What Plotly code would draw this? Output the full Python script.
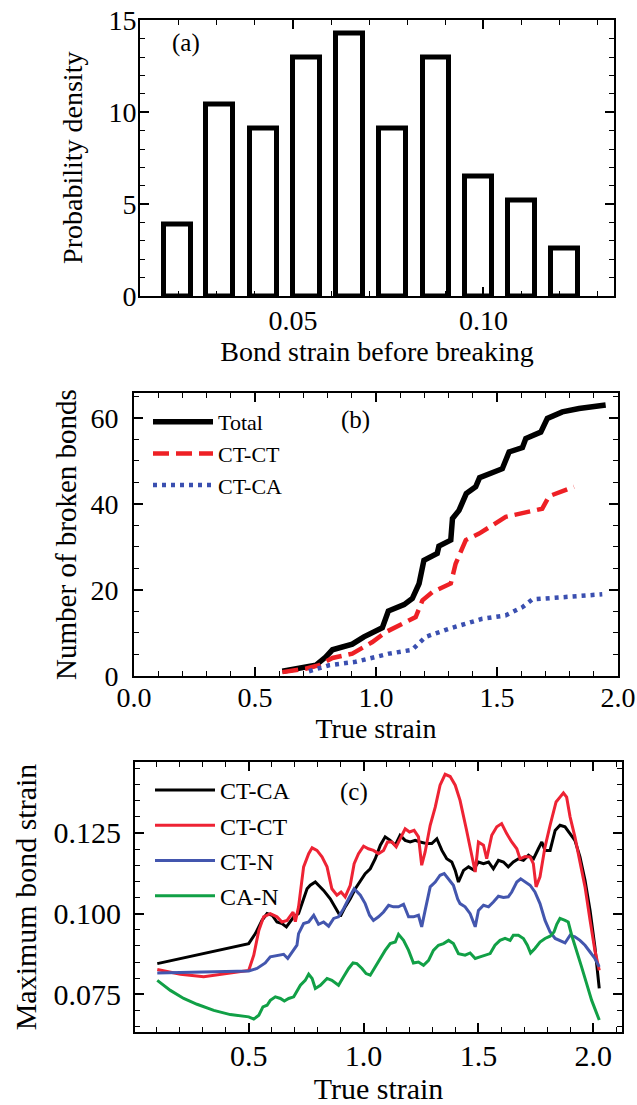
import plotly.graph_objects as go

W, H = 637, 1105
FONT = "Liberation Serif, Times New Roman, serif"

# ---------------- Panel (a): histogram of bond strain before breaking
bin_centers = [0.0197, 0.0307, 0.0422, 0.0535, 0.0648, 0.0761, 0.0875, 0.0987, 0.1100, 0.1213]
density = [3.9, 10.4, 9.1, 13.0, 14.3, 9.1, 13.0, 6.5, 5.2, 2.6]

# ---------------- Panel (b): cumulative number of broken bonds
total_x = [0.613, 0.709, 0.751, 0.792, 0.820, 0.902, 0.950, 1.026, 1.051, 1.116, 1.150, 1.178,
           1.198, 1.253, 1.260, 1.309, 1.316, 1.343, 1.373, 1.412, 1.428, 1.522, 1.550, 1.605,
           1.619, 1.681, 1.708, 1.770, 1.839, 1.949]
total_y = [1.1, 2.0, 2.5, 4.4, 6.1, 7.4, 9.1, 11.2, 15.1, 16.6, 18.0, 21.5,
           26.9, 28.5, 30.2, 31.6, 36.6, 38.5, 42.4, 44.0, 46.1, 48.2, 52.1, 53.1,
           55.2, 56.7, 59.9, 61.4, 62.2, 63.0]
ctct_x = [0.613, 0.709, 0.765, 0.820, 0.902, 0.985, 1.040, 1.164, 1.192, 1.233, 1.309, 1.329,
          1.371, 1.426, 1.536, 1.687, 1.715, 1.818]
ctct_y = [0.9, 1.7, 2.5, 4.2, 5.2, 7.9, 10.2, 13.7, 17.6, 19.5, 21.5, 26.1,
          31.6, 33.1, 37.0, 38.9, 41.8, 44.0]
ctca_x = [0.723, 0.806, 0.916, 0.998, 1.054, 1.150, 1.205, 1.302, 1.439, 1.536, 1.605, 1.646,
          1.770, 1.935]
ctca_y = [1.1, 2.5, 3.3, 4.4, 5.2, 6.1, 9.1, 11.0, 13.3, 14.1, 16.0, 17.8,
          18.4, 19.0]

# ---------------- Panel (c): maximum bond strain vs true strain
c_ctca_x = [0.102, 0.500, 0.529, 0.558, 0.580, 0.602, 0.623, 0.645, 0.664, 0.681, 0.696, 0.717,
            0.732, 0.754, 0.768, 0.790, 0.804, 0.826, 0.855, 0.884, 0.899, 0.920, 0.942, 0.964,
            0.986, 1.007, 1.029, 1.051, 1.073, 1.094, 1.116, 1.138, 1.159, 1.181, 1.203, 1.225,
            1.246, 1.275, 1.297, 1.319, 1.341, 1.362, 1.384, 1.399, 1.413, 1.435, 1.457, 1.478,
            1.500, 1.522, 1.544, 1.565, 1.587, 1.609, 1.630, 1.652, 1.674, 1.696, 1.718, 1.740,
            1.761, 1.776, 1.790, 1.812, 1.834, 1.855, 1.877, 1.899, 1.920, 1.942, 1.964, 1.986,
            2.007, 2.026]
c_ctca_y = [0.0845, 0.0907, 0.0938, 0.0979, 0.1000, 0.0995, 0.0974, 0.0969, 0.0959, 0.0974, 0.0990, 0.1000,
            0.1031, 0.1077, 0.1088, 0.1098, 0.1088, 0.1072, 0.1046, 0.1010, 0.0992, 0.1021, 0.1046, 0.1077,
            0.1103, 0.1124, 0.1139, 0.1170, 0.1212, 0.1238, 0.1227, 0.1212, 0.1243, 0.1227, 0.1222, 0.1227,
            0.1222, 0.1217, 0.1217, 0.1232, 0.1196, 0.1170, 0.1160, 0.1134, 0.1098, 0.1134, 0.1145, 0.1136,
            0.1160, 0.1155, 0.1160, 0.1139, 0.1165, 0.1160, 0.1145, 0.1160, 0.1170, 0.1165, 0.1181, 0.1170,
            0.1201, 0.1222, 0.1196, 0.1196, 0.1258, 0.1274, 0.1269, 0.1248, 0.1227, 0.1176, 0.1103, 0.1010,
            0.0897, 0.0768]
c_ctct_x = [0.102, 0.203, 0.304, 0.406, 0.500, 0.522, 0.544, 0.565, 0.594, 0.623, 0.645, 0.667,
            0.693, 0.703, 0.717, 0.739, 0.761, 0.776, 0.797, 0.819, 0.841, 0.862, 0.884, 0.902,
            0.920, 0.942, 0.959, 0.978, 1.000, 1.021, 1.043, 1.065, 1.087, 1.104, 1.123, 1.142,
            1.159, 1.181, 1.200, 1.220, 1.239, 1.253, 1.268, 1.290, 1.312, 1.333, 1.355, 1.377,
            1.399, 1.420, 1.447, 1.464, 1.486, 1.500, 1.522, 1.536, 1.558, 1.580, 1.601, 1.623,
            1.645, 1.667, 1.681, 1.703, 1.725, 1.739, 1.751, 1.768, 1.790, 1.812, 1.838, 1.855,
            1.870, 1.884, 1.899, 1.920, 1.942, 1.964, 1.986, 2.007, 2.026]
c_ctct_y = [0.0827, 0.0812, 0.0804, 0.0814, 0.0824, 0.0871, 0.0948, 0.0990, 0.1000, 0.0990, 0.0974, 0.0979,
            0.1005, 0.0975, 0.1021, 0.1145, 0.1186, 0.1204, 0.1196, 0.1176, 0.1145, 0.1077, 0.1057, 0.1067,
            0.1052, 0.1088, 0.1155, 0.1186, 0.1209, 0.1201, 0.1196, 0.1186, 0.1196, 0.1222, 0.1222, 0.1207,
            0.1232, 0.1263, 0.1253, 0.1258, 0.1238, 0.1150, 0.1191, 0.1274, 0.1330, 0.1398, 0.1432, 0.1425,
            0.1398, 0.1351, 0.1263, 0.1207, 0.1129, 0.1222, 0.1212, 0.1170, 0.1243, 0.1269, 0.1279, 0.1248,
            0.1222, 0.1201, 0.1170, 0.1177, 0.1176, 0.1155, 0.1083, 0.1114, 0.1207, 0.1274, 0.1346, 0.1361,
            0.1374, 0.1361, 0.1300, 0.1238, 0.1165, 0.1083, 0.0979, 0.0886, 0.0824]
c_ctn_x = [0.102, 0.275, 0.500, 0.536, 0.572, 0.594, 0.623, 0.652, 0.670, 0.688, 0.710, 0.717,
           0.739, 0.761, 0.783, 0.804, 0.826, 0.848, 0.870, 0.891, 0.913, 0.935, 0.959, 0.986,
           1.007, 1.026, 1.043, 1.065, 1.087, 1.109, 1.130, 1.152, 1.174, 1.196, 1.217, 1.239,
           1.253, 1.268, 1.290, 1.312, 1.333, 1.351, 1.370, 1.391, 1.410, 1.420, 1.442, 1.464,
           1.486, 1.500, 1.522, 1.544, 1.565, 1.587, 1.609, 1.630, 1.645, 1.667, 1.684, 1.703,
           1.725, 1.746, 1.768, 1.790, 1.812, 1.834, 1.855, 1.877, 1.899, 1.920, 1.942, 1.964,
           1.986, 2.007, 2.026]
c_ctn_y = [0.0816, 0.0819, 0.0822, 0.0830, 0.0847, 0.0866, 0.0871, 0.0874, 0.0861, 0.0881, 0.0902, 0.0938,
           0.0969, 0.0974, 0.0995, 0.0967, 0.0974, 0.0961, 0.0985, 0.0990, 0.1015, 0.1046, 0.1077, 0.1057,
           0.1031, 0.0995, 0.0979, 0.0990, 0.1005, 0.1026, 0.1021, 0.1021, 0.1029, 0.0990, 0.0990, 0.0995,
           0.0959, 0.1010, 0.1083, 0.1098, 0.1119, 0.1124, 0.1108, 0.1088, 0.1045, 0.1031, 0.1021, 0.1000,
           0.0959, 0.1010, 0.1026, 0.1021, 0.1036, 0.1054, 0.1050, 0.1052, 0.1067, 0.1098, 0.1108, 0.1098,
           0.1088, 0.1067, 0.1031, 0.0979, 0.0943, 0.0923, 0.0915, 0.0909, 0.0933, 0.0928, 0.0917, 0.0902,
           0.0881, 0.0861, 0.0835]
c_can_x = [0.102, 0.159, 0.217, 0.275, 0.348, 0.420, 0.500, 0.522, 0.544, 0.562, 0.580, 0.594,
           0.616, 0.638, 0.655, 0.674, 0.696, 0.703, 0.725, 0.746, 0.761, 0.776, 0.790, 0.812,
           0.841, 0.862, 0.891, 0.913, 0.935, 0.954, 0.971, 0.993, 1.011, 1.029, 1.051, 1.073,
           1.094, 1.116, 1.138, 1.152, 1.174, 1.196, 1.217, 1.239, 1.261, 1.283, 1.304, 1.326,
           1.348, 1.370, 1.391, 1.413, 1.442, 1.464, 1.486, 1.507, 1.529, 1.551, 1.572, 1.594,
           1.616, 1.638, 1.652, 1.674, 1.696, 1.713, 1.727, 1.746, 1.768, 1.790, 1.812, 1.829,
           1.841, 1.855, 1.877, 1.891, 1.906, 1.928, 1.949, 1.971, 1.993, 2.026]
c_can_y = [0.0793, 0.0762, 0.0737, 0.0719, 0.0700, 0.0687, 0.0680, 0.0673, 0.0685, 0.0711, 0.0716, 0.0731,
           0.0742, 0.0737, 0.0729, 0.0737, 0.0742, 0.0750, 0.0778, 0.0793, 0.0812, 0.0799, 0.0768, 0.0778,
           0.0799, 0.0793, 0.0778, 0.0804, 0.0830, 0.0847, 0.0845, 0.0830, 0.0814, 0.0809, 0.0835, 0.0861,
           0.0886, 0.0907, 0.0912, 0.0936, 0.0917, 0.0886, 0.0847, 0.0850, 0.0840, 0.0855, 0.0886, 0.0902,
           0.0907, 0.0917, 0.0907, 0.0876, 0.0871, 0.0878, 0.0861, 0.0866, 0.0871, 0.0876, 0.0902, 0.0917,
           0.0923, 0.0917, 0.0933, 0.0933, 0.0923, 0.0902, 0.0878, 0.0892, 0.0912, 0.0923, 0.0930, 0.0943,
           0.0967, 0.0985, 0.0979, 0.0974, 0.0933, 0.0886, 0.0835, 0.0783, 0.0731, 0.0670]

fig = go.Figure()

# (a)
fig.add_trace(go.Bar(x=bin_centers, y=density, width=0.0070, xaxis="x", yaxis="y",
                     marker=dict(color="white", line=dict(color="black", width=5)),
                     showlegend=False))

# (b)
fig.add_trace(go.Scatter(x=total_x, y=total_y, mode="lines", name="Total", xaxis="x2", yaxis="y2",
                         line=dict(color="black", width=5.5), legend="legend", legendgroup="t"))
fig.add_trace(go.Scatter(x=ctct_x, y=ctct_y, mode="lines", name="CT-CT", xaxis="x2", yaxis="y2",
                         line=dict(color="#ee2025", width=4.5, dash="16px,7px"), legend="legend", legendgroup="cc"))
fig.add_trace(go.Scatter(x=ctca_x, y=ctca_y, mode="lines", name="CT-CA", xaxis="x2", yaxis="y2",
                         line=dict(color="#3a4fb0", width=4.5, dash="4px,5px"), legend="legend", legendgroup="ca"))

# (c)
c_series = [("CT-CA", c_ctca_x, c_ctca_y, "black"),
            ("CT-CT", c_ctct_x, c_ctct_y, "#ee2334"),
            ("CT-N", c_ctn_x, c_ctn_y, "#4356ae"),
            ("CA-N", c_can_x, c_can_y, "#11a046")]
for name, xs, ys, col in c_series:
    fig.add_trace(go.Scatter(x=xs, y=ys, mode="lines", name=name, xaxis="x3", yaxis="y3",
                             line=dict(color=col, width=3), legend="legend2", legendgroup="c" + name))

def px_x(p):
    return p / W

def px_y(p):
    return 1 - p / H

axis_common = dict(showline=True, linecolor="black", linewidth=2, mirror="allticks",
                   ticks="inside", ticklen=9, tickwidth=1.5, tickcolor="black",
                   showgrid=False, zeroline=False, color="black", automargin=False)

def minor(d):
    return dict(ticks="inside", ticklen=5, tickwidth=1.3, tickcolor="black", dtick=d, showgrid=False)

def label(text, x, y):
    return dict(text=text, x=px_x(x), y=px_y(y), xref="paper", yref="paper",
                xanchor="center", yanchor="middle", showarrow=False, font=dict(size=25))

fig.update_layout(
    width=W, height=H, margin=dict(l=0, r=0, t=0, b=0, autoexpand=False),
    plot_bgcolor="white", paper_bgcolor="white",
    font=dict(family=FONT, color="black", size=28),
    bargap=0,
    xaxis=dict(axis_common, domain=[px_x(140), px_x(614)], anchor="y", range=[0.0098, 0.1343],
               tickmode="linear", tick0=0, dtick=0.05, tickformat=".2f", minor=minor(0.01),
               tickfont=dict(size=28), ticklabelstandoff=-2,
               title=dict(text="Bond strain before breaking", font=dict(size=28), standoff=6)),
    yaxis=dict(axis_common, domain=[px_y(296), px_y(19.5)], anchor="x", range=[0, 15.05],
               tickmode="linear", tick0=0, dtick=5, minor=minor(1),
               tickfont=dict(size=28), ticklabelstandoff=-4,
               title=dict(text="Probability density", font=dict(size=28), standoff=18)),
    xaxis2=dict(axis_common, domain=[px_x(134), px_x(618)], anchor="y2", range=[0, 2.0],
                tickmode="linear", tick0=0, dtick=0.5, tickformat=".1f", minor=minor(0.1),
                tickfont=dict(size=28), ticklabelstandoff=-5,
                title=dict(text="True strain", font=dict(size=28), standoff=0)),
    yaxis2=dict(axis_common, domain=[px_y(676), px_y(393)], anchor="x2", range=[0, 65.8],
                tickmode="linear", tick0=0, dtick=20, minor=minor(5),
                tickfont=dict(size=28), ticklabelstandoff=8,
                title=dict(text="Number of broken bonds", font=dict(size=29), standoff=5)),
    xaxis3=dict(axis_common, domain=[px_x(135), px_x(622)], anchor="y3", range=[0.005, 2.125],
                tickmode="linear", tick0=0, dtick=0.5, tickformat=".1f", minor=minor(0.1),
                tickfont=dict(size=30), ticklabelstandoff=-4,
                title=dict(text="True strain", font=dict(size=30), standoff=14)),
    yaxis3=dict(axis_common, domain=[px_y(1032), px_y(762)], anchor="x3", range=[0.0633, 0.147],
                tickmode="linear", tick0=0, dtick=0.025, tickformat=".3f", minor=minor(0.005),
                tickfont=dict(size=30), ticklabelstandoff=6,
                title=dict(text="Maximum bond strain", font=dict(size=30), standoff=8)),
    legend=dict(x=px_x(148), y=px_y(401), xanchor="left", yanchor="top",
                bgcolor="rgba(0,0,0,0)", borderwidth=0, font=dict(size=22),
                tracegroupgap=0, itemwidth=60),
    legend2=dict(x=px_x(150), y=px_y(768), xanchor="left", yanchor="top",
                 bgcolor="rgba(0,0,0,0)", borderwidth=0, font=dict(size=24),
                 tracegroupgap=1, itemwidth=60),
    annotations=[label("(a)", 186, 43), label("(b)", 355, 420), label("(c)", 354, 792)],
)

fig.write_html("out.html")
